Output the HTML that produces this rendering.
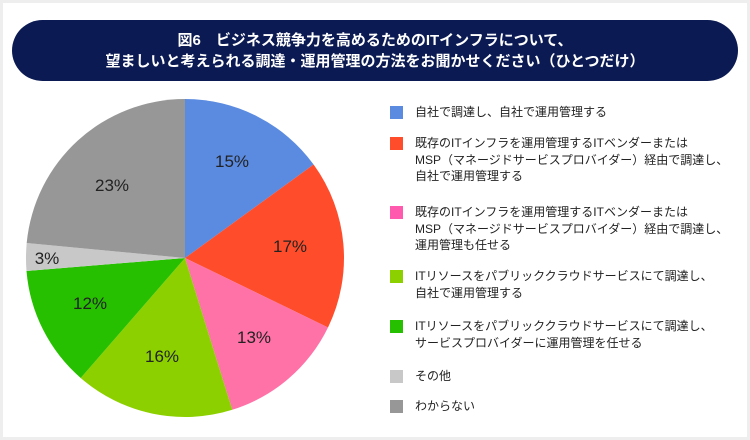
<!DOCTYPE html>
<html><head><meta charset="utf-8"><style>
body{margin:0;width:750px;height:440px;background:#eeeeee;font-family:"Liberation Sans","Noto Sans CJK JP",sans-serif;}
.card{position:absolute;left:3px;top:3px;width:744px;height:434px;background:#fff;}
.hdr{position:absolute;left:12px;top:20px;width:726px;height:61px;background:#0b1a52;border-radius:31px;color:#fff;text-align:center;font-size:15px;font-weight:bold;line-height:21px;padding-top:10px;box-sizing:border-box;}
.lg{position:absolute;left:390px;font-size:12px;color:#222;line-height:16.5px;}
.lg i{position:absolute;left:0;top:2px;width:13px;height:13px;}
.lg span{position:absolute;left:25px;white-space:nowrap;}
</style></head><body>
<div class="card"></div>
<div class="hdr">図6　ビジネス競争力を高めるためのITインフラについて、<br>望ましいと考えられる調達・運用管理の方法をお聞かせください（ひとつだけ）</div>
<svg style="position:absolute;left:0;top:0" width="750" height="440">
<g font-family="Liberation Sans, sans-serif" font-size="17" fill="#222">
<path d="M185,258 L185,99 A159,159 0 0 1 313.6,164.5Z" fill="#5b8be0"/>
<path d="M185,258 L313.6,164.5 A159,159 0 0 1 328,327.5Z" fill="#ff4d2c"/>
<path d="M185,258 L328,327.5 A159,159 0 0 1 232.3,409.8Z" fill="#ff72a8"/>
<path d="M185,258 L232.3,409.8 A159,159 0 0 1 80.7,378Z" fill="#8dd000"/>
<path d="M185,258 L80.7,378 A159,159 0 0 1 26.5,271Z" fill="#26c000"/>
<path d="M185,258 L26.5,271 A159,159 0 0 1 26.7,243Z" fill="#c8c8c8"/>
<path d="M185,258 L26.7,243 A159,159 0 0 1 185,99Z" fill="#979797"/>
<text x="232" y="167" text-anchor="middle">15%</text>
<text x="290" y="252" text-anchor="middle">17%</text>
<text x="254" y="343" text-anchor="middle">13%</text>
<text x="162" y="362" text-anchor="middle">16%</text>
<text x="90" y="309" text-anchor="middle">12%</text>
<text x="47" y="264" text-anchor="middle">3%</text>
<text x="112" y="191" text-anchor="middle">23%</text>
</g></svg>
<div class="lg" style="top:104px"><i style="background:#5b8be0"></i><span>自社で調達し、自社で運用管理する</span></div>
<div class="lg" style="top:135px"><i style="background:#ff4d2c"></i><span>既存のITインフラを運用管理するITベンダーまたは<br>MSP（マネージドサービスプロバイダー）経由で調達し、<br>自社で運用管理する</span></div>
<div class="lg" style="top:204px"><i style="background:#ff5aae"></i><span>既存のITインフラを運用管理するITベンダーまたは<br>MSP（マネージドサービスプロバイダー）経由で調達し、<br>運用管理も任せる</span></div>
<div class="lg" style="top:268px"><i style="background:#8dd000"></i><span>ITリソースをパブリッククラウドサービスにて調達し、<br>自社で運用管理する</span></div>
<div class="lg" style="top:318px"><i style="background:#26c000"></i><span>ITリソースをパブリッククラウドサービスにて調達し、<br>サービスプロバイダーに運用管理を任せる</span></div>
<div class="lg" style="top:368px"><i style="background:#c8c8c8"></i><span>その他</span></div>
<div class="lg" style="top:398px"><i style="background:#979797"></i><span>わからない</span></div>
</body></html>
